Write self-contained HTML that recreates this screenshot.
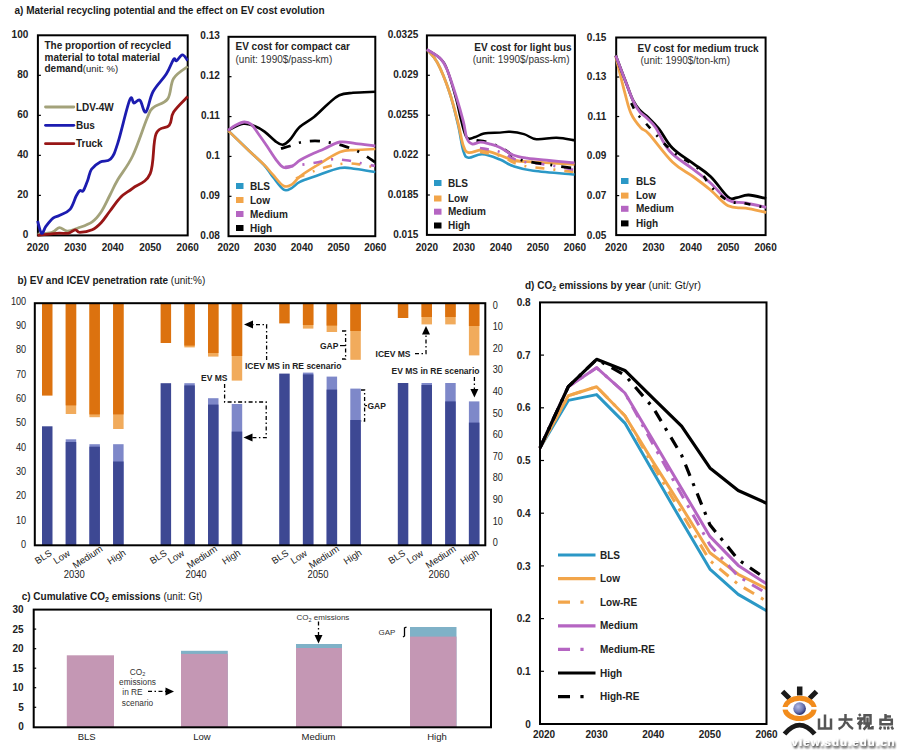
<!DOCTYPE html><html><head><meta charset="utf-8"><style>
html,body{margin:0;padding:0;background:#fff;width:900px;height:751px;overflow:hidden}
svg{display:block;font-family:"Liberation Sans", sans-serif}
</style></head><body>
<svg width="900" height="751" viewBox="0 0 900 751">
<rect width="900" height="751" fill="#fff"/>
<text x="14.5" y="13.6" font-size="10" font-weight="bold" text-anchor="start" fill="#1a1a1a">a) Material recycling potential and the effect on EV cost evolution</text>
<rect x="37.9" y="35.3" width="149.79999999999998" height="200.10000000000002" fill="none" stroke="#000" stroke-width="2"/>
<text x="28.3" y="38.099999999999994" font-size="10" font-weight="bold" text-anchor="end" fill="#222">100</text>
<text x="28.3" y="78.11999999999999" font-size="10" font-weight="bold" text-anchor="end" fill="#222">80</text>
<line x1="37.9" y1="75.32" x2="40.9" y2="75.32" stroke="#000" stroke-width="1.2"/>
<text x="28.3" y="118.14" font-size="10" font-weight="bold" text-anchor="end" fill="#222">60</text>
<line x1="37.9" y1="115.34" x2="40.9" y2="115.34" stroke="#000" stroke-width="1.2"/>
<text x="28.3" y="158.16000000000003" font-size="10" font-weight="bold" text-anchor="end" fill="#222">40</text>
<line x1="37.9" y1="155.36" x2="40.9" y2="155.36" stroke="#000" stroke-width="1.2"/>
<text x="28.3" y="198.18" font-size="10" font-weight="bold" text-anchor="end" fill="#222">20</text>
<line x1="37.9" y1="195.38" x2="40.9" y2="195.38" stroke="#000" stroke-width="1.2"/>
<text x="28.3" y="238.20000000000005" font-size="10" font-weight="bold" text-anchor="end" fill="#222">0</text>
<text x="37.9" y="251" font-size="10" font-weight="bold" text-anchor="middle" fill="#222">2020</text>
<text x="75.35" y="251" font-size="10" font-weight="bold" text-anchor="middle" fill="#222">2030</text>
<text x="112.79999999999998" y="251" font-size="10" font-weight="bold" text-anchor="middle" fill="#222">2040</text>
<text x="150.25" y="251" font-size="10" font-weight="bold" text-anchor="middle" fill="#222">2050</text>
<text x="187.7" y="251" font-size="10" font-weight="bold" text-anchor="middle" fill="#222">2060</text>
<text x="44.5" y="48.5" font-size="10" font-weight="bold" text-anchor="start" fill="#222">The proportion of recycled</text>
<text x="44.5" y="60.5" font-size="10" font-weight="bold" text-anchor="start" fill="#222">material to total material</text>
<text x="44.5" y="72.3" font-size="10" font-weight="bold" text-anchor="start" fill="#222">demand<tspan font-weight="normal" font-size="9.5">(unit: %)</tspan></text>
<path d="M37.6,234.2 C40.2,233.9 48.3,233.6 52.2,232.4 C56.1,231.2 56.6,227.8 59.3,227.6 C62.0,227.4 63.9,231.0 67.3,231.1 C70.7,231.2 73.5,229.7 78.0,228.0 C82.5,226.3 88.0,224.7 92.2,221.8 C96.4,218.9 97.9,216.8 101.1,212.0 C104.3,207.2 107.0,200.8 110.0,195.0 C113.0,189.2 113.8,186.5 117.9,179.5 C122.0,172.5 127.3,167.1 132.6,156.0 C137.9,144.9 143.5,126.7 147.2,118.0 C150.9,109.3 149.4,111.1 153.1,107.7 C156.8,104.3 164.0,104.2 167.7,98.9 C171.4,93.6 170.0,84.2 173.6,78.4 C177.2,72.6 185.2,68.6 187.7,66.5" fill="none" stroke="#a3a27a" stroke-width="2.8" stroke-linejoin="round"/>
<path d="M37.6,235.3 C41.0,234.9 51.2,233.7 56.7,233.3 C62.2,232.9 64.9,233.9 68.2,233.3 C71.5,232.7 73.2,230.0 75.3,229.8 C77.4,229.6 76.8,232.4 79.8,232.4 C82.8,232.4 88.4,231.5 92.2,229.8 C96.0,228.1 97.9,226.1 101.1,222.7 C104.3,219.3 106.4,215.6 110.0,211.0 C113.6,206.4 116.8,201.1 120.9,197.0 C125.0,192.9 127.3,192.5 132.6,188.3 C137.9,184.1 146.0,183.4 150.2,173.6 C154.4,163.8 152.6,142.7 156.0,134.0 C159.4,125.3 166.0,129.3 169.2,125.3 C172.4,121.3 170.3,117.2 173.6,112.0 C176.9,106.8 185.2,99.3 187.7,96.5" fill="none" stroke="#981616" stroke-width="2.8" stroke-linejoin="round"/>
<path d="M37.6,220.9 C38.3,223.1 40.1,232.3 41.6,233.3 C43.1,234.3 43.9,228.9 46.0,226.2 C48.1,223.5 50.7,220.1 53.1,218.2 C55.5,216.3 56.3,217.2 59.3,215.6 C62.3,214.0 67.0,212.8 70.0,209.3 C73.0,205.8 74.4,199.3 76.2,196.0 C78.0,192.7 78.5,191.7 79.8,190.7 C81.1,189.7 81.9,192.6 83.3,190.7 C84.7,188.8 86.3,183.9 87.8,180.0 C89.3,176.1 89.2,172.5 91.5,169.2 C93.8,165.9 96.9,163.7 100.3,161.9 C103.7,160.1 107.4,162.4 110.6,159.0 C113.8,155.6 114.5,153.4 117.9,142.8 C121.3,132.2 126.7,107.5 129.6,100.3 C132.5,93.1 132.1,103.0 134.0,103.0 C135.9,103.0 137.9,98.7 140.0,100.3 C142.1,101.9 143.4,113.6 145.8,112.0 C148.2,110.4 149.4,98.3 153.1,91.5 C156.8,84.7 162.6,79.8 166.3,74.0 C170.0,68.2 171.8,61.7 173.6,59.3 C175.4,56.9 174.9,61.6 176.5,60.8 C178.1,60.0 180.4,55.0 182.4,54.9 C184.4,54.8 186.7,59.5 187.7,60.5" fill="none" stroke="#1c1cb0" stroke-width="2.8" stroke-linejoin="round"/>
<line x1="45.5" y1="107" x2="73.8" y2="107" stroke="#a3a27a" stroke-width="2.8" stroke-linecap="round"/>
<text x="76" y="110.6" font-size="10" font-weight="bold" text-anchor="start" fill="#222">LDV-4W</text>
<line x1="45.5" y1="125.3" x2="73.8" y2="125.3" stroke="#1c1cb0" stroke-width="2.8" stroke-linecap="round"/>
<text x="76" y="128.9" font-size="10" font-weight="bold" text-anchor="start" fill="#222">Bus</text>
<line x1="45.5" y1="143.7" x2="73.8" y2="143.7" stroke="#981616" stroke-width="2.8" stroke-linecap="round"/>
<text x="76" y="147.29999999999998" font-size="10" font-weight="bold" text-anchor="start" fill="#222">Truck</text>
<rect x="228.5" y="36.8" width="146.8" height="199.39999999999998" fill="none" stroke="#000" stroke-width="2"/>
<text x="219.8" y="39.4" font-size="10" font-weight="bold" text-anchor="end" fill="#222">0.13</text>
<text x="219.8" y="79.27999999999999" font-size="10" font-weight="bold" text-anchor="end" fill="#222">0.12</text>
<line x1="228.5" y1="76.67999999999999" x2="231.5" y2="76.67999999999999" stroke="#000" stroke-width="1.2"/>
<text x="219.8" y="119.15999999999998" font-size="10" font-weight="bold" text-anchor="end" fill="#222">0.11</text>
<line x1="228.5" y1="116.55999999999999" x2="231.5" y2="116.55999999999999" stroke="#000" stroke-width="1.2"/>
<text x="219.8" y="159.04" font-size="10" font-weight="bold" text-anchor="end" fill="#222">0.1</text>
<line x1="228.5" y1="156.44" x2="231.5" y2="156.44" stroke="#000" stroke-width="1.2"/>
<text x="219.8" y="198.92" font-size="10" font-weight="bold" text-anchor="end" fill="#222">0.09</text>
<line x1="228.5" y1="196.32" x2="231.5" y2="196.32" stroke="#000" stroke-width="1.2"/>
<text x="219.8" y="238.79999999999998" font-size="10" font-weight="bold" text-anchor="end" fill="#222">0.08</text>
<text x="228.5" y="251" font-size="10" font-weight="bold" text-anchor="middle" fill="#222">2020</text>
<text x="265.2" y="251" font-size="10" font-weight="bold" text-anchor="middle" fill="#222">2030</text>
<text x="301.9" y="251" font-size="10" font-weight="bold" text-anchor="middle" fill="#222">2040</text>
<text x="338.6" y="251" font-size="10" font-weight="bold" text-anchor="middle" fill="#222">2050</text>
<text x="375.3" y="251" font-size="10" font-weight="bold" text-anchor="middle" fill="#222">2060</text>
<text x="235.5" y="50" font-size="10" font-weight="bold" text-anchor="start" fill="#222">EV cost for compact car</text>
<text x="235.5" y="62.5" font-size="10" font-weight="normal" text-anchor="start" fill="#333">(unit: 1990$/pass-km)</text>
<path d="M228.0,130.4 C231.8,134.1 242.4,144.4 249.0,150.7 C255.6,157.0 260.2,160.8 264.5,165.5 C268.8,170.2 269.4,172.7 272.9,177.0 C276.4,181.3 280.3,187.7 283.7,189.6 C287.1,191.5 289.1,189.2 292.0,187.8 C294.9,186.4 295.6,184.0 299.9,181.9 C304.2,179.8 308.8,178.5 316.0,176.0 C323.2,173.5 332.8,169.3 340.0,168.0 C347.2,166.7 349.6,168.3 356.0,169.0 C362.4,169.7 371.8,171.5 375.3,172.0" fill="none" stroke="#2b98c6" stroke-width="2.6" stroke-linejoin="round"/>
<path d="M228.0,130.4 C231.8,134.1 242.4,144.5 249.0,150.7 C255.6,156.9 260.2,160.8 264.5,165.1 C268.8,169.4 269.4,170.9 272.9,174.7 C276.4,178.5 280.3,184.3 283.7,186.0 C287.1,187.7 289.1,186.0 292.0,184.3 C294.9,182.6 295.6,179.8 299.9,176.5 C304.2,173.2 308.8,170.4 316.0,166.0 C323.2,161.6 332.8,154.9 340.0,152.0 C347.2,149.1 349.6,150.5 356.0,150.0 C362.4,149.5 371.8,149.2 375.3,149.0" fill="none" stroke="#f2a54a" stroke-width="2.6" stroke-linejoin="round"/>
<path d="M296.0,178.5 C299.4,177.1 308.9,172.9 315.0,170.7 C321.1,168.4 324.6,167.3 330.0,166.0 C335.4,164.7 339.6,163.8 345.0,163.5 C350.4,163.2 354.6,163.8 360.0,164.5 C365.4,165.2 372.3,167.0 375.0,167.5" fill="none" stroke="#f2a54a" stroke-width="2.6" stroke-linejoin="round" stroke-dasharray="9 9 2 9"/>
<path d="M284.7,167.0 C286.7,166.7 290.5,166.3 296.0,165.5 C301.5,164.7 308.7,163.9 315.0,162.8 C321.3,161.7 325.4,159.8 331.0,159.4 C336.6,159.0 340.8,159.7 346.0,160.3 C351.2,160.9 354.8,162.0 360.0,163.0 C365.2,164.0 372.3,165.5 375.0,166.0" fill="none" stroke="#b565c2" stroke-width="2.6" stroke-linejoin="round" stroke-dasharray="9 9 2 9"/>
<path d="M281.0,148.7 C282.6,148.2 286.6,147.1 290.0,146.0 C293.4,144.9 295.5,143.4 300.0,142.5 C304.5,141.6 309.6,140.8 315.0,140.8 C320.4,140.8 324.6,141.6 330.0,142.6 C335.4,143.6 339.6,144.5 345.0,146.3 C350.4,148.1 354.6,149.6 360.0,152.4 C365.4,155.2 372.3,160.3 375.0,162.0" fill="none" stroke="#000" stroke-width="2.8" stroke-linejoin="round" stroke-dasharray="10 9 2 9"/>
<path d="M228.0,130.4 C230.7,129.2 238.1,124.6 243.0,123.8 C247.9,123.0 251.1,124.8 255.0,126.2 C258.9,127.6 260.8,128.9 264.5,131.6 C268.2,134.3 272.1,138.7 275.3,141.1 C278.5,143.5 279.9,144.9 282.5,144.7 C285.1,144.5 286.6,143.2 289.7,140.0 C292.8,136.8 295.5,130.9 299.9,126.8 C304.3,122.7 308.9,121.1 314.0,117.0 C319.1,112.9 323.4,107.9 328.0,104.0 C332.6,100.1 334.8,97.2 339.3,95.2 C343.8,93.2 346.5,93.4 353.0,92.8 C359.5,92.2 371.3,92.0 375.3,91.8" fill="none" stroke="#000" stroke-width="2.6" stroke-linejoin="round"/>
<path d="M228.0,130.4 C229.4,129.4 233.1,126.5 236.0,125.0 C238.9,123.5 241.4,122.1 244.2,122.0 C247.0,121.9 248.7,122.2 251.3,124.4 C253.9,126.6 255.7,130.1 258.5,134.0 C261.3,137.9 263.7,141.3 266.9,146.0 C270.1,150.7 273.5,156.4 276.5,160.3 C279.5,164.2 280.9,166.4 283.7,167.5 C286.5,168.6 289.1,167.6 292.0,166.3 C294.9,165.0 296.7,162.3 299.9,160.3 C303.1,158.3 305.7,157.0 310.0,155.0 C314.3,153.0 318.6,151.3 324.0,149.0 C329.4,146.7 334.2,143.0 340.0,142.0 C345.8,141.0 349.6,142.9 356.0,143.6 C362.4,144.3 371.8,145.6 375.3,146.0" fill="none" stroke="#b565c2" stroke-width="2.8" stroke-linejoin="round"/>
<rect x="236" y="183" width="7.5" height="6" fill="#2b98c6"/><text x="250" y="189.6" font-size="10" font-weight="bold" text-anchor="start" fill="#222">BLS</text><rect x="236" y="197" width="7.5" height="6" fill="#f2a54a"/><text x="250" y="203.6" font-size="10" font-weight="bold" text-anchor="start" fill="#222">Low</text><rect x="236" y="211" width="7.5" height="6" fill="#b565c2"/><text x="250" y="217.6" font-size="10" font-weight="bold" text-anchor="start" fill="#222">Medium</text><rect x="236" y="225" width="7.5" height="6" fill="#000"/><text x="250" y="231.6" font-size="10" font-weight="bold" text-anchor="start" fill="#222">High</text>
<rect x="426.9" y="35.4" width="148.0" height="199.5" fill="none" stroke="#000" stroke-width="2"/>
<text x="418.3" y="38.4" font-size="10" font-weight="bold" text-anchor="end" fill="#222">0.0325</text>
<text x="418.3" y="78.3" font-size="10" font-weight="bold" text-anchor="end" fill="#222">0.029</text>
<line x1="426.9" y1="75.3" x2="429.9" y2="75.3" stroke="#000" stroke-width="1.2"/>
<text x="418.3" y="118.19999999999999" font-size="10" font-weight="bold" text-anchor="end" fill="#222">0.0255</text>
<line x1="426.9" y1="115.19999999999999" x2="429.9" y2="115.19999999999999" stroke="#000" stroke-width="1.2"/>
<text x="418.3" y="158.1" font-size="10" font-weight="bold" text-anchor="end" fill="#222">0.022</text>
<line x1="426.9" y1="155.1" x2="429.9" y2="155.1" stroke="#000" stroke-width="1.2"/>
<text x="418.3" y="198.0" font-size="10" font-weight="bold" text-anchor="end" fill="#222">0.0185</text>
<line x1="426.9" y1="195.0" x2="429.9" y2="195.0" stroke="#000" stroke-width="1.2"/>
<text x="418.3" y="237.9" font-size="10" font-weight="bold" text-anchor="end" fill="#222">0.015</text>
<text x="426.9" y="251" font-size="10" font-weight="bold" text-anchor="middle" fill="#222">2020</text>
<text x="463.9" y="251" font-size="10" font-weight="bold" text-anchor="middle" fill="#222">2030</text>
<text x="500.9" y="251" font-size="10" font-weight="bold" text-anchor="middle" fill="#222">2040</text>
<text x="537.9" y="251" font-size="10" font-weight="bold" text-anchor="middle" fill="#222">2050</text>
<text x="574.9" y="251" font-size="10" font-weight="bold" text-anchor="middle" fill="#222">2060</text>
<text x="571.5" y="50.5" font-size="10" font-weight="bold" text-anchor="end" fill="#222">EV cost for light bus</text>
<text x="569.5" y="62.8" font-size="10" font-weight="normal" text-anchor="end" fill="#333">(unit: 1990$/pass-km)</text>
<path d="M426.9,49.5 C428.8,51.8 433.2,54.9 437.3,62.5 C441.4,70.2 445.7,80.8 449.4,92.0 C453.1,103.2 455.6,114.4 458.1,125.0 C460.6,135.6 461.4,144.9 463.3,150.8 C465.2,156.7 465.1,157.1 468.5,157.7 C471.9,158.3 476.6,154.0 482.3,154.3 C488.0,154.6 494.5,157.4 500.0,159.5 C505.5,161.6 507.1,164.0 513.1,166.0 C519.1,168.0 522.2,169.2 533.3,170.7 C544.4,172.2 567.1,173.8 574.5,174.5" fill="none" stroke="#2b98c6" stroke-width="2.6" stroke-linejoin="round"/>
<path d="M426.9,49.5 C428.8,51.8 433.2,54.9 437.3,62.5 C441.4,70.2 445.7,81.1 449.4,92.0 C453.1,102.9 455.6,113.5 458.1,123.1 C460.6,132.7 461.4,140.3 463.3,145.6 C465.2,150.9 465.4,151.8 468.5,152.6 C471.6,153.4 476.9,150.2 480.6,150.0 C484.3,149.8 485.8,150.8 489.3,151.7 C492.8,152.6 495.4,153.6 500.0,155.2 C504.6,156.8 508.1,159.3 514.7,160.5 C521.3,161.7 525.6,161.4 536.4,162.1 C547.2,162.8 567.6,164.0 574.5,164.4" fill="none" stroke="#f2a54a" stroke-width="2.8" stroke-linejoin="round"/>
<path d="M480.0,152.0 C483.6,152.7 492.8,153.7 500.0,156.0 C507.2,158.3 511.2,162.7 520.0,165.0 C528.8,167.3 539.2,167.7 549.0,169.0 C558.8,170.3 569.9,171.5 574.5,172.0" fill="none" stroke="#f2a54a" stroke-width="2.6" stroke-linejoin="round" stroke-dasharray="9 9 2 9"/>
<path d="M480.0,148.0 C483.6,148.7 492.8,149.7 500.0,152.0 C507.2,154.3 511.2,158.7 520.0,161.0 C528.8,163.3 539.2,163.4 549.0,165.0 C558.8,166.6 569.9,169.1 574.5,170.0" fill="none" stroke="#b565c2" stroke-width="2.6" stroke-linejoin="round" stroke-dasharray="9 9 2 9"/>
<path d="M476.5,140.3 C478.9,140.7 484.7,141.0 489.8,142.7 C494.9,144.4 499.4,146.9 505.0,150.0 C510.6,153.1 512.4,157.1 520.9,159.8 C529.4,162.5 542.4,163.7 552.0,165.2 C561.6,166.7 570.5,167.7 574.5,168.3" fill="none" stroke="#000" stroke-width="2.8" stroke-linejoin="round" stroke-dasharray="10 9 2 9"/>
<path d="M426.9,49.5 C429.4,51.2 437.1,55.1 440.8,59.0 C444.5,62.9 444.9,63.8 447.7,71.2 C450.5,78.6 454.0,91.2 456.4,100.0 C458.8,108.8 459.1,113.2 461.0,120.0 C462.9,126.8 464.2,134.4 466.8,137.5 C469.4,140.6 472.3,137.7 475.4,137.0 C478.5,136.3 479.6,134.3 484.0,133.5 C488.4,132.7 495.3,132.9 500.0,132.6 C504.7,132.3 505.7,131.5 510.0,131.8 C514.3,132.1 519.2,132.8 524.0,134.1 C528.8,135.4 530.5,138.6 536.4,139.2 C542.3,139.8 549.7,137.5 556.6,137.7 C563.5,137.9 571.3,139.8 574.5,140.3" fill="none" stroke="#000" stroke-width="2.4" stroke-linejoin="round"/>
<path d="M426.9,49.5 C429.4,51.2 437.1,55.1 440.8,59.0 C444.5,62.9 444.9,64.3 447.7,71.2 C450.5,78.1 453.6,88.1 456.4,97.1 C459.2,106.1 461.4,114.0 463.3,121.4 C465.2,128.8 465.2,133.9 466.8,138.0 C468.4,142.1 469.5,143.1 472.0,143.9 C474.5,144.7 477.5,142.2 480.6,142.2 C483.7,142.2 485.8,143.0 489.3,143.9 C492.8,144.8 495.7,145.4 500.0,147.4 C504.3,149.4 508.1,153.1 513.0,155.0 C517.9,156.9 520.5,157.2 527.0,158.2 C533.5,159.2 540.5,159.7 549.0,160.5 C557.5,161.3 569.9,162.5 574.5,162.9" fill="none" stroke="#b565c2" stroke-width="2.8" stroke-linejoin="round"/>
<rect x="434" y="180" width="7.5" height="6" fill="#2b98c6"/><text x="448" y="186.6" font-size="10" font-weight="bold" text-anchor="start" fill="#222">BLS</text><rect x="434" y="195.5" width="7.5" height="6" fill="#f2a54a"/><text x="448" y="202.1" font-size="10" font-weight="bold" text-anchor="start" fill="#222">Low</text><rect x="434" y="208.7" width="7.5" height="6" fill="#b565c2"/><text x="448" y="215.29999999999998" font-size="10" font-weight="bold" text-anchor="start" fill="#222">Medium</text><rect x="434" y="222.5" width="7.5" height="6" fill="#000"/><text x="448" y="229.1" font-size="10" font-weight="bold" text-anchor="start" fill="#222">High</text>
<rect x="616.2" y="37.5" width="149.39999999999998" height="197.6" fill="none" stroke="#000" stroke-width="2"/>
<text x="606.3" y="40.9" font-size="10" font-weight="bold" text-anchor="end" fill="#222">0.15</text>
<text x="606.3" y="80.42" font-size="10" font-weight="bold" text-anchor="end" fill="#222">0.13</text>
<line x1="616.2" y1="77.02" x2="619.2" y2="77.02" stroke="#000" stroke-width="1.2"/>
<text x="606.3" y="119.94" font-size="10" font-weight="bold" text-anchor="end" fill="#222">0.11</text>
<line x1="616.2" y1="116.53999999999999" x2="619.2" y2="116.53999999999999" stroke="#000" stroke-width="1.2"/>
<text x="606.3" y="159.46" font-size="10" font-weight="bold" text-anchor="end" fill="#222">0.09</text>
<line x1="616.2" y1="156.06" x2="619.2" y2="156.06" stroke="#000" stroke-width="1.2"/>
<text x="606.3" y="198.98" font-size="10" font-weight="bold" text-anchor="end" fill="#222">0.07</text>
<line x1="616.2" y1="195.57999999999998" x2="619.2" y2="195.57999999999998" stroke="#000" stroke-width="1.2"/>
<text x="606.3" y="238.5" font-size="10" font-weight="bold" text-anchor="end" fill="#222">0.05</text>
<text x="616.2" y="251" font-size="10" font-weight="bold" text-anchor="middle" fill="#222">2020</text>
<text x="653.5500000000001" y="251" font-size="10" font-weight="bold" text-anchor="middle" fill="#222">2030</text>
<text x="690.9000000000001" y="251" font-size="10" font-weight="bold" text-anchor="middle" fill="#222">2040</text>
<text x="728.25" y="251" font-size="10" font-weight="bold" text-anchor="middle" fill="#222">2050</text>
<text x="765.6" y="251" font-size="10" font-weight="bold" text-anchor="middle" fill="#222">2060</text>
<text x="637.5" y="51.5" font-size="10" font-weight="bold" text-anchor="start" fill="#222">EV cost for medium truck</text>
<text x="640.5" y="63.5" font-size="10" font-weight="normal" text-anchor="start" fill="#333">(unit: 1990$/ton-km)</text>
<path d="M615.7,55.9 C617.3,62.5 622.0,82.2 624.8,92.6 C627.6,103.0 628.3,107.6 631.2,113.9 C634.1,120.2 637.6,124.1 640.8,127.7 C644.0,131.3 643.3,127.8 649.0,134.0 C654.7,140.2 664.5,154.3 672.4,162.0 C680.3,169.7 686.1,171.5 693.0,176.5 C699.9,181.5 704.2,184.7 710.5,190.0 C716.8,195.3 721.8,202.5 728.1,205.8 C734.4,209.1 738.8,207.0 745.7,208.2 C752.6,209.4 762.5,211.6 766.2,212.3" fill="none" stroke="#f2a54a" stroke-width="2.8" stroke-linejoin="round"/>
<path d="M615.7,55.5 C617.5,60.3 622.6,73.8 625.8,82.0 C629.0,90.2 630.7,95.9 633.3,101.0 C635.9,106.1 637.3,107.5 640.0,110.5 C642.7,113.5 644.8,114.2 648.2,117.5 C651.6,120.8 654.5,123.3 658.9,128.8 C663.3,134.3 666.3,141.8 672.4,148.0 C678.5,154.2 686.1,158.3 693.0,163.4 C699.9,168.5 704.2,170.5 710.5,176.5 C716.8,182.5 723.3,193.2 728.1,197.0 C732.9,200.8 733.2,198.0 736.9,197.6 C740.6,197.2 743.3,194.8 748.6,195.0 C753.9,195.2 763.0,197.9 766.2,198.5" fill="none" stroke="#000" stroke-width="2.8" stroke-linejoin="round"/>
<path d="M615.7,55.5 C617.5,60.3 622.6,73.8 625.8,82.0 C629.0,90.2 630.8,95.7 633.3,101.1 C635.8,106.5 637.2,108.7 639.7,111.8 C642.2,114.9 644.2,115.3 647.1,118.2 C650.0,121.1 651.7,121.8 655.7,127.7 C659.7,133.6 662.8,143.5 669.5,151.0 C676.2,158.5 685.6,163.4 693.0,169.2 C700.4,175.0 704.2,177.5 710.5,183.0 C716.8,188.5 721.8,196.4 728.1,200.0 C734.4,203.6 738.8,201.7 745.7,203.0 C752.6,204.3 762.5,206.5 766.2,207.3" fill="none" stroke="#b565c2" stroke-width="2.8" stroke-linejoin="round"/>
<path d="M631.2,103.2 C632.2,105.0 634.4,109.9 636.5,113.0 C638.6,116.1 636.6,113.5 643.0,120.3 C649.4,127.1 662.2,142.5 672.0,151.0 C681.8,159.5 690.4,161.4 697.3,167.7 C704.2,174.0 705.0,180.1 710.5,186.0 C716.0,191.9 721.7,197.3 728.0,200.5 C734.3,203.7 738.9,202.2 745.7,203.5 C752.5,204.8 762.3,207.0 766.0,207.8" fill="none" stroke="#000" stroke-width="2.6" stroke-linejoin="round" stroke-dasharray="6 9 2 9"/>
<rect x="621" y="178" width="7.5" height="6" fill="#2b98c6"/><text x="636" y="184.6" font-size="10" font-weight="bold" text-anchor="start" fill="#222">BLS</text><rect x="621" y="192.6" width="7.5" height="6" fill="#f2a54a"/><text x="636" y="199.2" font-size="10" font-weight="bold" text-anchor="start" fill="#222">Low</text><rect x="621" y="205.8" width="7.5" height="6" fill="#b565c2"/><text x="636" y="212.4" font-size="10" font-weight="bold" text-anchor="start" fill="#222">Medium</text><rect x="621" y="220.4" width="7.5" height="6" fill="#000"/><text x="636" y="227.0" font-size="10" font-weight="bold" text-anchor="start" fill="#222">High</text>
<text x="17.5" y="284.3" font-size="10" font-weight="bold" text-anchor="start" fill="#1a1a1a">b) EV and ICEV penetration rate <tspan font-weight="normal" font-size="10">(unit:%)</tspan></text>
<text transform="translate(26.2,547.8) scale(0.87,1)" font-size="10.5" text-anchor="end" fill="#222">0</text>
<text transform="translate(26.2,523.5) scale(0.87,1)" font-size="10.5" text-anchor="end" fill="#222">10</text>
<text transform="translate(26.2,499.2) scale(0.87,1)" font-size="10.5" text-anchor="end" fill="#222">20</text>
<text transform="translate(26.2,474.9) scale(0.87,1)" font-size="10.5" text-anchor="end" fill="#222">30</text>
<text transform="translate(26.2,450.6) scale(0.87,1)" font-size="10.5" text-anchor="end" fill="#222">40</text>
<text transform="translate(26.2,426.3) scale(0.87,1)" font-size="10.5" text-anchor="end" fill="#222">50</text>
<text transform="translate(26.2,402.0) scale(0.87,1)" font-size="10.5" text-anchor="end" fill="#222">60</text>
<text transform="translate(26.2,377.7) scale(0.87,1)" font-size="10.5" text-anchor="end" fill="#222">70</text>
<text transform="translate(26.2,353.4) scale(0.87,1)" font-size="10.5" text-anchor="end" fill="#222">80</text>
<text transform="translate(26.2,329.1) scale(0.87,1)" font-size="10.5" text-anchor="end" fill="#222">90</text>
<text transform="translate(26.2,304.8) scale(0.87,1)" font-size="10.5" text-anchor="end" fill="#222">100</text>
<text transform="translate(492.8,308.6) scale(0.87,1)" font-size="10.5" fill="#222">0</text>
<text transform="translate(492.8,330.2) scale(0.87,1)" font-size="10.5" fill="#222">10</text>
<text transform="translate(492.8,351.8) scale(0.87,1)" font-size="10.5" fill="#222">20</text>
<text transform="translate(492.8,373.4) scale(0.87,1)" font-size="10.5" fill="#222">30</text>
<text transform="translate(492.8,395.0) scale(0.87,1)" font-size="10.5" fill="#222">40</text>
<text transform="translate(492.8,416.6) scale(0.87,1)" font-size="10.5" fill="#222">50</text>
<text transform="translate(492.8,438.2) scale(0.87,1)" font-size="10.5" fill="#222">60</text>
<text transform="translate(492.8,459.8) scale(0.87,1)" font-size="10.5" fill="#222">70</text>
<text transform="translate(492.8,481.4) scale(0.87,1)" font-size="10.5" fill="#222">80</text>
<text transform="translate(492.8,503.0) scale(0.87,1)" font-size="10.5" fill="#222">90</text>
<text transform="translate(492.8,524.6) scale(0.87,1)" font-size="10.5" fill="#222">10</text>
<text transform="translate(492.8,546.2) scale(0.87,1)" font-size="10.5" fill="#222">0</text>
<rect x="42.0" y="303.2" width="10.5" height="92.4" fill="#dc720f"/>
<rect x="42.0" y="426.3" width="10.5" height="119.0" fill="#3d4893"/>
<rect x="65.7" y="303.2" width="10.5" height="110.8" fill="#f1ab5c"/>
<rect x="65.7" y="303.2" width="10.5" height="102.2" fill="#dc720f"/>
<rect x="65.7" y="439.3" width="10.5" height="106.0" fill="#7e88c9"/>
<rect x="65.7" y="442.0" width="10.5" height="103.3" fill="#3d4893"/>
<rect x="89.4" y="303.2" width="10.5" height="114.0" fill="#f1ab5c"/>
<rect x="89.4" y="303.2" width="10.5" height="111.2" fill="#dc720f"/>
<rect x="89.4" y="444.2" width="10.5" height="101.1" fill="#7e88c9"/>
<rect x="89.4" y="446.7" width="10.5" height="98.6" fill="#3d4893"/>
<rect x="113.1" y="303.2" width="10.5" height="125.8" fill="#f1ab5c"/>
<rect x="113.1" y="303.2" width="10.5" height="111.2" fill="#dc720f"/>
<rect x="113.1" y="444.2" width="10.5" height="101.1" fill="#7e88c9"/>
<rect x="113.1" y="461.5" width="10.5" height="83.8" fill="#3d4893"/>
<rect x="160.6" y="303.2" width="10.5" height="39.8" fill="#dc720f"/>
<rect x="160.6" y="383.2" width="10.5" height="162.1" fill="#3d4893"/>
<rect x="184.3" y="303.2" width="10.5" height="44.2" fill="#f1ab5c"/>
<rect x="184.3" y="303.2" width="10.5" height="42.4" fill="#dc720f"/>
<rect x="184.3" y="383.2" width="10.5" height="162.1" fill="#7e88c9"/>
<rect x="184.3" y="385.4" width="10.5" height="159.9" fill="#3d4893"/>
<rect x="208.0" y="303.2" width="10.5" height="53.4" fill="#f1ab5c"/>
<rect x="208.0" y="303.2" width="10.5" height="49.8" fill="#dc720f"/>
<rect x="208.0" y="398.2" width="10.5" height="147.1" fill="#7e88c9"/>
<rect x="208.0" y="404.6" width="10.5" height="140.7" fill="#3d4893"/>
<rect x="231.7" y="303.2" width="10.5" height="77.4" fill="#f1ab5c"/>
<rect x="231.7" y="303.2" width="10.5" height="52.8" fill="#dc720f"/>
<rect x="231.7" y="404.0" width="10.5" height="141.3" fill="#7e88c9"/>
<rect x="231.7" y="431.6" width="10.5" height="113.7" fill="#3d4893"/>
<rect x="279.2" y="303.2" width="10.5" height="20.2" fill="#dc720f"/>
<rect x="279.2" y="373.6" width="10.5" height="171.7" fill="#3d4893"/>
<rect x="302.9" y="303.2" width="10.5" height="25.4" fill="#f1ab5c"/>
<rect x="302.9" y="303.2" width="10.5" height="21.8" fill="#dc720f"/>
<rect x="302.9" y="372.6" width="10.5" height="172.7" fill="#7e88c9"/>
<rect x="302.9" y="374.4" width="10.5" height="170.9" fill="#3d4893"/>
<rect x="326.6" y="303.2" width="10.5" height="28.8" fill="#f1ab5c"/>
<rect x="326.6" y="303.2" width="10.5" height="22.4" fill="#dc720f"/>
<rect x="326.6" y="376.6" width="10.5" height="168.7" fill="#7e88c9"/>
<rect x="326.6" y="389.6" width="10.5" height="155.7" fill="#3d4893"/>
<rect x="350.3" y="303.2" width="10.5" height="56.6" fill="#f1ab5c"/>
<rect x="350.3" y="303.2" width="10.5" height="27.8" fill="#dc720f"/>
<rect x="350.3" y="388.6" width="10.5" height="156.7" fill="#7e88c9"/>
<rect x="350.3" y="420.0" width="10.5" height="125.3" fill="#3d4893"/>
<rect x="397.8" y="303.2" width="10.5" height="14.8" fill="#dc720f"/>
<rect x="397.8" y="383.0" width="10.5" height="162.3" fill="#3d4893"/>
<rect x="421.5" y="303.2" width="10.5" height="21.2" fill="#f1ab5c"/>
<rect x="421.5" y="303.2" width="10.5" height="13.8" fill="#dc720f"/>
<rect x="421.5" y="383.0" width="10.5" height="162.3" fill="#7e88c9"/>
<rect x="421.5" y="385.0" width="10.5" height="160.3" fill="#3d4893"/>
<rect x="445.2" y="303.2" width="10.5" height="21.2" fill="#f1ab5c"/>
<rect x="445.2" y="303.2" width="10.5" height="13.8" fill="#dc720f"/>
<rect x="445.2" y="383.0" width="10.5" height="162.3" fill="#7e88c9"/>
<rect x="445.2" y="401.4" width="10.5" height="143.9" fill="#3d4893"/>
<rect x="468.9" y="303.2" width="10.5" height="52.2" fill="#f1ab5c"/>
<rect x="468.9" y="303.2" width="10.5" height="22.8" fill="#dc720f"/>
<rect x="468.9" y="401.4" width="10.5" height="143.9" fill="#7e88c9"/>
<rect x="468.9" y="422.6" width="10.5" height="122.7" fill="#3d4893"/>
<rect x="34.8" y="303.2" width="450.5" height="242.09999999999997" fill="none" stroke="#000" stroke-width="2"/>
<text x="43.3" y="560.2" font-size="9.5" text-anchor="middle" fill="#222" transform="rotate(-33 43.3 557)">BLS</text>
<text x="61.6" y="560.2" font-size="9.5" text-anchor="middle" fill="#222" transform="rotate(-33 61.6 557)">Low</text>
<text x="87.6" y="560.2" font-size="9.5" text-anchor="middle" fill="#222" transform="rotate(-33 87.6 557)">Medium</text>
<text x="116.4" y="560.2" font-size="9.5" text-anchor="middle" fill="#222" transform="rotate(-33 116.4 557)">High</text>
<text x="158.3" y="560.2" font-size="9.5" text-anchor="middle" fill="#222" transform="rotate(-33 158.3 557)">BLS</text>
<text x="176" y="560.2" font-size="9.5" text-anchor="middle" fill="#222" transform="rotate(-33 176 557)">Low</text>
<text x="202" y="560.2" font-size="9.5" text-anchor="middle" fill="#222" transform="rotate(-33 202 557)">Medium</text>
<text x="231.3" y="560.2" font-size="9.5" text-anchor="middle" fill="#222" transform="rotate(-33 231.3 557)">High</text>
<text x="280" y="560.2" font-size="9.5" text-anchor="middle" fill="#222" transform="rotate(-33 280 557)">BLS</text>
<text x="298.8" y="560.2" font-size="9.5" text-anchor="middle" fill="#222" transform="rotate(-33 298.8 557)">Low</text>
<text x="323.9" y="560.2" font-size="9.5" text-anchor="middle" fill="#222" transform="rotate(-33 323.9 557)">Medium</text>
<text x="352.6" y="560.2" font-size="9.5" text-anchor="middle" fill="#222" transform="rotate(-33 352.6 557)">High</text>
<text x="396.8" y="560.2" font-size="9.5" text-anchor="middle" fill="#222" transform="rotate(-33 396.8 557)">BLS</text>
<text x="415" y="560.2" font-size="9.5" text-anchor="middle" fill="#222" transform="rotate(-33 415 557)">Low</text>
<text x="440.8" y="560.2" font-size="9.5" text-anchor="middle" fill="#222" transform="rotate(-33 440.8 557)">Medium</text>
<text x="469.5" y="560.2" font-size="9.5" text-anchor="middle" fill="#222" transform="rotate(-33 469.5 557)">High</text>
<text transform="translate(74.2,577.6) scale(0.9,1)" font-size="10.5" text-anchor="middle" fill="#222">2030</text>
<text transform="translate(195.9,577.6) scale(0.9,1)" font-size="10.5" text-anchor="middle" fill="#222">2040</text>
<text transform="translate(318.1,577.6) scale(0.9,1)" font-size="10.5" text-anchor="middle" fill="#222">2050</text>
<text transform="translate(438.9,577.6) scale(0.9,1)" font-size="10.5" text-anchor="middle" fill="#222">2060</text>
<path d="M266.6,360 L266.6,324.6 L252,324.6" stroke="#000" stroke-width="1.3" stroke-dasharray="4 2.5 1.5 2.5" fill="none"/>
<path d="M244,324.6 L253,320.6 L253,328.6 Z" fill="#000"/>
<text x="245" y="369.3" font-size="8.5" font-weight="bold" text-anchor="start" fill="#222">ICEV MS in RE scenario</text>
<text x="201" y="381.3" font-size="8.5" font-weight="bold" text-anchor="start" fill="#222">EV MS</text>
<path d="M224.6,384 L224.6,402 L266.2,402 L266.2,437.6 L252,437.6" stroke="#000" stroke-width="1.3" stroke-dasharray="4 2.5 1.5 2.5" fill="none"/>
<path d="M243.5,437.6 L252.5,433.6 L252.5,441.6 Z" fill="#000"/>
<text x="320" y="349" font-size="8.5" font-weight="bold" text-anchor="start" fill="#222">GAP</text>
<path d="M342,331 L345.6,331 L345.6,359 L342,359" stroke="#000" stroke-width="1.3" stroke-dasharray="4 2.5 1.5 2.5" fill="none"/>
<path d="M345.6,345.6 L340,345.6" stroke="#000" stroke-width="1.2"/>
<text x="367.5" y="409" font-size="8.5" font-weight="bold" text-anchor="start" fill="#222">GAP</text>
<path d="M361,390 L364.6,390 L364.6,421 L361,421" stroke="#000" stroke-width="1.3" stroke-dasharray="4 2.5 1.5 2.5" fill="none"/>
<path d="M364.6,405.6 L367,405.6" stroke="#000" stroke-width="1.2"/>
<text x="375.6" y="357.3" font-size="8.5" font-weight="bold" text-anchor="start" fill="#222">ICEV MS</text>
<path d="M415,353.6 L426,353.6 L426,334" stroke="#000" stroke-width="1.3" stroke-dasharray="4 2.5 1.5 2.5" fill="none"/>
<path d="M426,326 L422,334.5 L430,334.5 Z" fill="#000"/>
<text x="391.6" y="374.3" font-size="8.5" font-weight="bold" text-anchor="start" fill="#222">EV MS in RE scenario</text>
<path d="M474.4,377 L474.4,389" stroke="#000" stroke-width="1.3" stroke-dasharray="4 2.5 1.5 2.5" fill="none"/>
<path d="M474.4,397.5 L470.4,389 L478.4,389 Z" fill="#000"/>
<text x="21.7" y="599.6" font-size="10" font-weight="bold" text-anchor="start" fill="#1a1a1a">c) Cumulative CO<tspan font-size="7" dy="2">2</tspan><tspan dy="-2"> emissions </tspan><tspan font-weight="normal" font-size="10">(unit: Gt)</tspan></text>
<text x="23.7" y="613.2" font-size="10" font-weight="bold" text-anchor="end" fill="#222">30</text>
<text x="23.7" y="632.7333333333333" font-size="10" font-weight="bold" text-anchor="end" fill="#222">25</text>
<line x1="33.7" y1="629.1" x2="36.2" y2="629.1" stroke="#000" stroke-width="1.2"/>
<text x="23.7" y="652.2666666666667" font-size="10" font-weight="bold" text-anchor="end" fill="#222">20</text>
<line x1="33.7" y1="648.7" x2="36.2" y2="648.7" stroke="#000" stroke-width="1.2"/>
<text x="23.7" y="671.8" font-size="10" font-weight="bold" text-anchor="end" fill="#222">15</text>
<line x1="33.7" y1="668.2" x2="36.2" y2="668.2" stroke="#000" stroke-width="1.2"/>
<text x="23.7" y="691.3333333333334" font-size="10" font-weight="bold" text-anchor="end" fill="#222">10</text>
<line x1="33.7" y1="687.7" x2="36.2" y2="687.7" stroke="#000" stroke-width="1.2"/>
<text x="23.7" y="710.8666666666667" font-size="10" font-weight="bold" text-anchor="end" fill="#222">5</text>
<line x1="33.7" y1="707.3" x2="36.2" y2="707.3" stroke="#000" stroke-width="1.2"/>
<text x="23.7" y="730.4" font-size="10" font-weight="bold" text-anchor="end" fill="#222">0</text>
<rect x="66.8" y="655.3" width="47.2" height="72.0" fill="#c497b4"/>
<rect x="181" y="650.8" width="46.8" height="76.5" fill="#7fb1c7"/>
<rect x="181" y="653.9" width="46.8" height="73.4" fill="#c497b4"/>
<rect x="296" y="644" width="46.0" height="83.3" fill="#7fb1c7"/>
<rect x="296" y="648" width="46.0" height="79.3" fill="#c497b4"/>
<rect x="410" y="627" width="46.5" height="100.3" fill="#7fb1c7"/>
<rect x="410" y="636.6" width="46.5" height="90.7" fill="#c497b4"/>
<rect x="33.7" y="609.6" width="457.3" height="117.69999999999993" fill="none" stroke="#000" stroke-width="2"/>
<text x="86.7" y="740" font-size="9.5" font-weight="normal" text-anchor="middle" fill="#222">BLS</text>
<text x="202" y="740" font-size="9.5" font-weight="normal" text-anchor="middle" fill="#222">Low</text>
<text x="318.5" y="740" font-size="9.5" font-weight="normal" text-anchor="middle" fill="#222">Medium</text>
<text x="437" y="740" font-size="9.5" font-weight="normal" text-anchor="middle" fill="#222">High</text>
<g font-size="8.3" fill="#333" text-anchor="middle"><text x="137.5" y="674.5">CO<tspan font-size="5.5" dy="1.5">2</tspan></text><text x="137.5" y="685">emissions</text><text x="132.5" y="695">in RE</text><text x="137.5" y="705.5">scenario</text></g>
<path d="M148,691.4 L166,691.4" stroke="#000" stroke-width="1.3" stroke-dasharray="4 2.5 1.5 2.5" fill="none"/>
<path d="M174,691.4 L165.5,687.4 L165.5,695.4 Z" fill="#000"/>
<text x="296.5" y="620" font-size="8" fill="#333">CO<tspan font-size="5.5" dy="1.5">2</tspan><tspan dy="-1.5"> emissions</tspan></text>
<path d="M318.5,621.5 L318.5,635" stroke="#000" stroke-width="1.3" stroke-dasharray="4 2.5 1.5 2.5" fill="none"/>
<path d="M318.5,643.5 L314.5,635 L322.5,635 Z" fill="#000"/>
<text x="378.5" y="635.3" font-size="8" font-weight="normal" text-anchor="start" fill="#333">GAP</text>
<path d="M403,637 L404.5,636 L404.5,628 L406.5,627" stroke="#000" stroke-width="1.3" fill="none"/>
<text x="525" y="288.6" font-size="10" font-weight="bold" text-anchor="start" fill="#1a1a1a">d) CO<tspan font-size="7" dy="2">2</tspan><tspan dy="-2"> emissions by year </tspan><tspan font-weight="normal" font-size="10.5">(unit: Gt/yr)</tspan></text>
<text x="530.7" y="727.6" font-size="10" font-weight="bold" text-anchor="end" fill="#222">0</text>
<text x="530.7" y="674.9" font-size="10" font-weight="bold" text-anchor="end" fill="#222">0.1</text>
<line x1="540" y1="671.3" x2="544" y2="671.3" stroke="#000" stroke-width="1.2"/>
<text x="530.7" y="622.2" font-size="10" font-weight="bold" text-anchor="end" fill="#222">0.2</text>
<line x1="540" y1="618.6" x2="544" y2="618.6" stroke="#000" stroke-width="1.2"/>
<text x="530.7" y="569.5" font-size="10" font-weight="bold" text-anchor="end" fill="#222">0.3</text>
<line x1="540" y1="565.9" x2="544" y2="565.9" stroke="#000" stroke-width="1.2"/>
<text x="530.7" y="516.8000000000001" font-size="10" font-weight="bold" text-anchor="end" fill="#222">0.4</text>
<line x1="540" y1="513.2" x2="544" y2="513.2" stroke="#000" stroke-width="1.2"/>
<text x="530.7" y="464.1" font-size="10" font-weight="bold" text-anchor="end" fill="#222">0.5</text>
<line x1="540" y1="460.5" x2="544" y2="460.5" stroke="#000" stroke-width="1.2"/>
<text x="530.7" y="411.40000000000003" font-size="10" font-weight="bold" text-anchor="end" fill="#222">0.6</text>
<line x1="540" y1="407.8" x2="544" y2="407.8" stroke="#000" stroke-width="1.2"/>
<text x="530.7" y="358.70000000000005" font-size="10" font-weight="bold" text-anchor="end" fill="#222">0.7</text>
<line x1="540" y1="355.1" x2="544" y2="355.1" stroke="#000" stroke-width="1.2"/>
<text x="530.7" y="306.0" font-size="10" font-weight="bold" text-anchor="end" fill="#222">0.8</text>
<text x="544.0" y="738" font-size="10" font-weight="bold" text-anchor="middle" fill="#222">2020</text>
<text x="596.625" y="738" font-size="10" font-weight="bold" text-anchor="middle" fill="#222">2030</text>
<text x="653.25" y="738" font-size="10" font-weight="bold" text-anchor="middle" fill="#222">2040</text>
<text x="709.875" y="738" font-size="10" font-weight="bold" text-anchor="middle" fill="#222">2050</text>
<text x="766.5" y="738" font-size="10" font-weight="bold" text-anchor="middle" fill="#222">2060</text>
<path d="M540.0,447.9 L568.3,400.4 L596.6,394.6 L624.9,423.1 L653.2,472.1 L681.6,521.1 L709.9,569.1 L738.2,594.4 L766.5,610.7" fill="none" stroke="#2b98c6" stroke-width="3" stroke-linejoin="round" stroke-linecap="butt"/>
<path d="M540.0,447.9 L568.3,395.7 L596.6,386.7 L624.9,415.7 L653.2,465.8 L681.6,513.2 L709.9,560.6 L738.2,584.3 L766.5,601.2" fill="none" stroke="#f2a54a" stroke-width="3" stroke-linejoin="round" stroke-linecap="butt" stroke-dasharray="12 8 3 8"/>
<path d="M540.0,447.9 L568.3,395.7 L596.6,386.7 L624.9,415.7 L653.2,462.1 L681.6,506.9 L709.9,552.7 L738.2,574.3 L766.5,588.6" fill="none" stroke="#f2a54a" stroke-width="3" stroke-linejoin="round" stroke-linecap="butt"/>
<path d="M540.0,447.9 L568.3,386.7 L596.6,367.7 L624.9,393.0 L653.2,444.7 L681.6,494.8 L709.9,544.8 L738.2,576.4 L766.5,593.3" fill="none" stroke="#b565c2" stroke-width="3" stroke-linejoin="round" stroke-linecap="butt" stroke-dasharray="12 8 3 8"/>
<path d="M540.0,447.9 L568.3,386.7 L596.6,367.7 L624.9,393.0 L653.2,440.5 L681.6,488.4 L709.9,536.4 L738.2,565.4 L766.5,583.8" fill="none" stroke="#b565c2" stroke-width="3" stroke-linejoin="round" stroke-linecap="butt"/>
<path d="M540.0,447.9 L568.3,386.7 L596.6,359.3 L624.9,370.4 L653.2,398.3 L681.6,426.2 L709.9,467.9 L738.2,490.5 L766.5,503.2" fill="none" stroke="#000" stroke-width="3.2" stroke-linejoin="round" stroke-linecap="butt"/>
<path d="M540.0,447.9 L568.3,386.7 L596.6,359.3 L624.9,375.1 L653.2,407.8 L681.6,455.2 L709.9,524.8 L738.2,559.6 L766.5,579.1" fill="none" stroke="#000" stroke-width="3.2" stroke-linejoin="round" stroke-linecap="butt" stroke-dasharray="12 8 3 8"/>
<rect x="540" y="302.4" width="226.5" height="421.6" fill="none" stroke="#000" stroke-width="2"/>
<path d="M558.0,555.0 L595.5,555.0" fill="none" stroke="#2b98c6" stroke-width="3.2" stroke-linejoin="round" stroke-linecap="butt"/>
<text x="600" y="558.6" font-size="10" font-weight="bold" text-anchor="start" fill="#222">BLS</text>
<path d="M558.0,578.6 L595.5,578.6" fill="none" stroke="#f2a54a" stroke-width="3.2" stroke-linejoin="round" stroke-linecap="butt"/>
<text x="600" y="582.2" font-size="10" font-weight="bold" text-anchor="start" fill="#222">Low</text>
<path d="M558.0,602.2 L595.5,602.2" fill="none" stroke="#f2a54a" stroke-width="3.2" stroke-linejoin="round" stroke-linecap="butt" stroke-dasharray="12 10.4 3.2 20"/>
<text x="600" y="605.8000000000001" font-size="10" font-weight="bold" text-anchor="start" fill="#222">Low-RE</text>
<path d="M558.0,625.8 L595.5,625.8" fill="none" stroke="#b565c2" stroke-width="3.2" stroke-linejoin="round" stroke-linecap="butt"/>
<text x="600" y="629.4" font-size="10" font-weight="bold" text-anchor="start" fill="#222">Medium</text>
<path d="M558.0,649.4 L595.5,649.4" fill="none" stroke="#b565c2" stroke-width="3.2" stroke-linejoin="round" stroke-linecap="butt" stroke-dasharray="12 10.4 3.2 20"/>
<text x="600" y="653.0" font-size="10" font-weight="bold" text-anchor="start" fill="#222">Medium-RE</text>
<path d="M558.0,673.0 L595.5,673.0" fill="none" stroke="#000" stroke-width="3.2" stroke-linejoin="round" stroke-linecap="butt"/>
<text x="600" y="676.6" font-size="10" font-weight="bold" text-anchor="start" fill="#222">High</text>
<path d="M558.0,696.6 L595.5,696.6" fill="none" stroke="#000" stroke-width="3.2" stroke-linejoin="round" stroke-linecap="butt" stroke-dasharray="12 10.4 3.2 20"/>
<text x="600" y="700.2" font-size="10" font-weight="bold" text-anchor="start" fill="#222">High-RE</text>
<defs><radialGradient id="ball" cx="0.38" cy="0.35" r="0.7"><stop offset="0" stop-color="#b4bce6"/><stop offset="0.6" stop-color="#6d78b4"/><stop offset="1" stop-color="#1c2464"/></radialGradient></defs>
<g><path d="M799.7,686.5 L799.7,695.5" stroke="#1a1a1a" stroke-width="5.5"/><path d="M782.5,691.5 L789.5,698.5 M816.5,691.5 L809.5,698.5" stroke="#1a1a1a" stroke-width="5"/><ellipse cx="799.6" cy="708.4" rx="14.6" ry="10.2" fill="none" stroke="#f28c1c" stroke-width="5"/><rect x="780" y="707" width="8.5" height="2.6" fill="#fff"/><rect x="811" y="707" width="8.5" height="2.6" fill="#fff"/><circle cx="799.6" cy="708.6" r="6.3" fill="url(#ball)"/><path d="M784.5,734 Q799.6,716.2 814.7,734" stroke="#1a1a1a" stroke-width="4.8" fill="none"/></g>
<g stroke="#555" stroke-width="2.5" fill="none" stroke-linecap="butt" stroke-linejoin="miter"><path transform="translate(818,714.5)" d="M7,0 L7,14 M1,4 L1,14 L13,14 L13,4"/><path transform="translate(838.5,714)" d="M0,5.5 L14,5.5 M7,0 L7,6 Q6.5,12 0,15 M8,8 Q10,12 14.5,15"/><path transform="translate(857,714)" d="M2,0 L3.5,2 M0,4.5 L5.5,4.5 L0.8,10.5 M3,7.5 L3,15.5 M4,8.5 L5.5,10 M7.5,1.3 L13.5,1.3 L13.5,9.5 L7.5,9.5 Z M10.5,3.5 L10.5,8.5 Q10,13 6.5,15.5 M11.8,10.5 L11.8,14.3 L15.5,14.3 L15.5,12"/><path transform="translate(879,714)" d="M6.5,0 L6.5,5.5 M6.5,2.5 L12,2.5 M1.5,5.8 L12.8,5.8 L12.8,10.3 L1.5,10.3 Z M2,12.5 L0.8,15.5 M5.5,12.5 L5.8,15.5 M9,12.5 L9.5,15.5 M12.5,12.5 L14,15.5"/></g>
<defs><filter id="sh" x="-10%" y="-30%" width="130%" height="190%"><feGaussianBlur in="SourceAlpha" stdDeviation="0.9"/><feOffset dx="1" dy="1.8" result="b"/><feFlood flood-color="#111" flood-opacity="1"/><feComposite in2="b" operator="in"/><feMerge><feMergeNode/><feMergeNode in="SourceGraphic"/></feMerge></filter></defs>
<text x="791.5" y="746.3" font-size="11.5" font-weight="bold" fill="#fff" letter-spacing="1.05" filter="url(#sh)">view.sdu.edu.cn</text>
</svg></body></html>
